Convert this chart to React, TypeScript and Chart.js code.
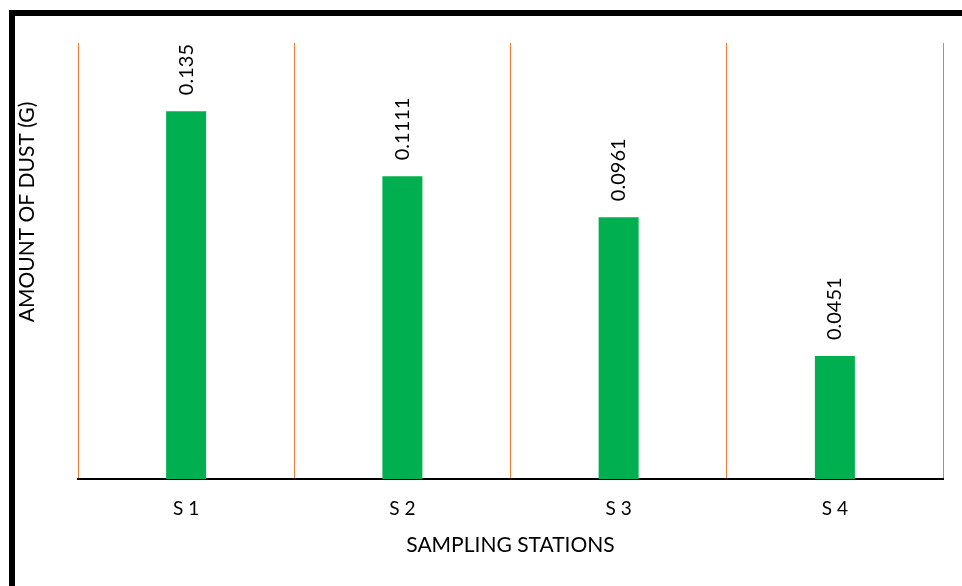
import React, { useEffect, useRef } from "react";
import { Chart, registerables } from "chart.js";

Chart.register(...registerables);

const categories = ["S 1", "S 2", "S 3", "S 4"];
const dustValues = [0.135, 0.1111, 0.0961, 0.0451];
const valueLabels = ["0.135", "0.1111", "0.0961", "0.0451"];
const yAxisTitle = "AMOUNT OF DUST (G)";
const xAxisTitle = "SAMPLING STATIONS";

const FONT = "Lato, 'Open Sans', sans-serif";

const framePlugin = {
  id: "frame",
  beforeDraw(chart: any) {
    const ctx = chart.ctx;
    ctx.save();
    ctx.fillStyle = "#ffffff";
    ctx.fillRect(0, 0, chart.width, chart.height);
    ctx.fillStyle = "#000000";
    ctx.fillRect(9, 10, chart.width - 9, 6);
    ctx.fillRect(9, 10, 6, chart.height - 10);
    ctx.restore();
  },
};

const labelsPlugin = {
  id: "valueLabels",
  afterDatasetsDraw(chart: any) {
    const ctx = chart.ctx;
    const meta = chart.getDatasetMeta(0);
    ctx.save();
    ctx.fillStyle = "#000000";
    ctx.font = `20px ${FONT}`;
    ctx.textAlign = "left";
    ctx.textBaseline = "middle";
    meta.data.forEach((bar: any, i: number) => {
      ctx.save();
      ctx.translate(bar.x, bar.y - 16);
      ctx.rotate(-Math.PI / 2);
      ctx.fillText(valueLabels[i], 0, 0);
      ctx.restore();
    });
    // y axis title
    ctx.font = `21px ${FONT}`;
    ctx.textAlign = "center";
    ctx.textBaseline = "middle";
    ctx.translate(27, 212);
    ctx.rotate(-Math.PI / 2);
    ctx.fillText(yAxisTitle, 0, 0);
    ctx.restore();
  },
};

export default function App() {
  const ref = useRef<HTMLCanvasElement | null>(null);
  useEffect(() => {
    if (!ref.current) return;
    const chart = new Chart(ref.current, {
      type: "bar",
      data: {
        labels: categories,
        datasets: [
          {
            data: dustValues,
            backgroundColor: "#00B050",
            borderWidth: 0,
            categoryPercentage: 1,
            barPercentage: 0.185,
          },
        ],
      },
      options: {
        animation: false,
        responsive: false,
        maintainAspectRatio: false,
        layout: { padding: { top: 43, right: 19, left: 0, bottom: 0 } },
        plugins: {
          legend: { display: false },
          tooltip: { enabled: false },
        },
        scales: {
          x: {
            afterFit: (s: any) => {
              s.height = 107;
            },
            grid: {
              display: true,
              offset: true,
              color: "#ED7D31",
              lineWidth: 1,
              drawTicks: false,
            },
            border: { display: true, color: "#000000", width: 2 },
            ticks: {
              color: "#000000",
              font: { family: FONT, size: 19 },
              padding: 18,
            },
            title: {
              display: true,
              text: xAxisTitle,
              color: "#000000",
              font: { family: FONT, size: 21 },
              padding: { top: 0, bottom: 28 },
            },
          },
          y: {
            min: 0,
            max: 0.16,
            afterFit: (s: any) => {
              s.width = 78;
            },
            grid: { display: false },
            border: { display: false },
            ticks: { display: false },
          },
        },
      },
      plugins: [framePlugin, labelsPlugin],
    });
    return () => chart.destroy();
  }, []);
  return (
    <div style={{ position: "fixed", left: 0, top: 0, width: 962, height: 586, background: "#fff" }}>
      <canvas ref={ref} width={962} height={586} style={{ display: "block", width: 962, height: 586 }} />
    </div>
  );
}
